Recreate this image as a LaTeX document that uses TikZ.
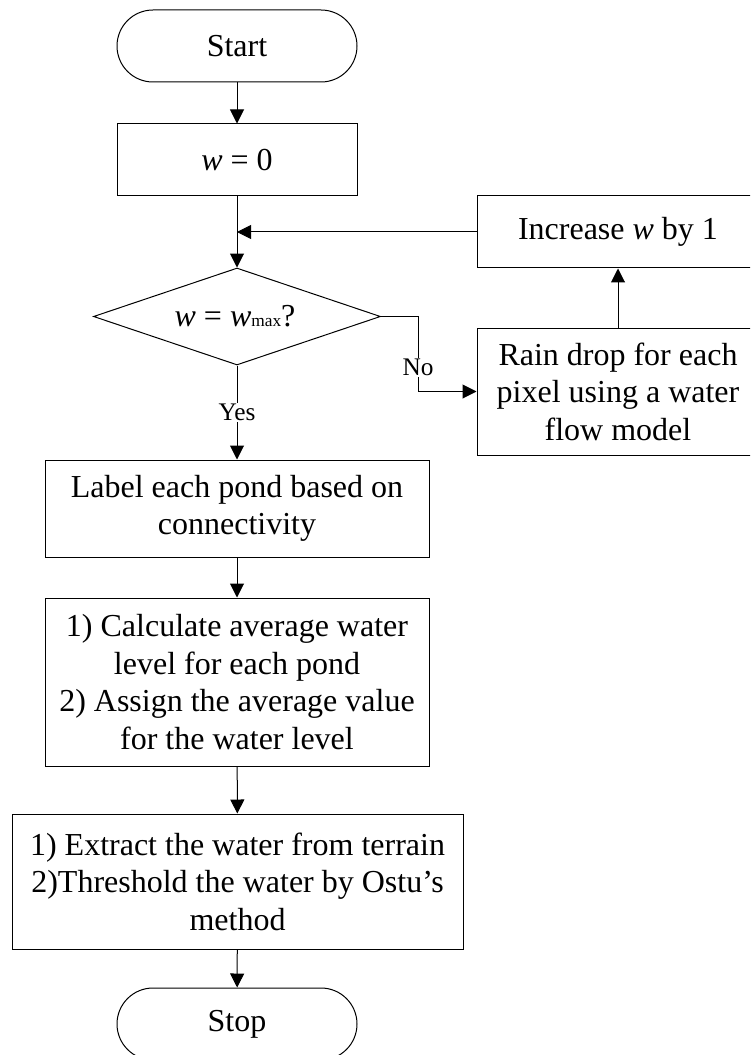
\documentclass[tikz,border=0pt]{standalone}
\usepackage{fontspec}
\setmainfont{Liberation Serif}
\usetikzlibrary{arrows.meta,shapes.geometric}

\begin{document}
\begin{tikzpicture}[x=0.75pt,y=-0.75pt,
  every node/.style={font=\fontsize{24}{28.1}\selectfont, align=center, inner sep=0pt},
  flowline/.style={line width=0.75pt},
  arrowline/.style={flowline, -{Triangle[length=10.5pt,width=10.5pt]}},
  procbox/.style={draw, line width=0.75pt, rectangle},
  terminal/.style={draw, line width=0.75pt, rectangle, rounded corners=27pt,
                   minimum width=180pt, minimum height=54pt},
  branchlabel/.style={fill=white, font=\fontsize{19}{22}\selectfont, inner sep=1pt}
]
\clip (0,0) rectangle (750,1055);
\fill[white] (0,0) rectangle (750,1055);

% main column
\node[terminal] (start) at (237,46) {Start};
\node[procbox, minimum width=180pt, minimum height=54pt] (init) at (237,160) {\textit{w} = 0};
\node[draw, line width=0.75pt, diamond, minimum width=215.25pt, minimum height=72.75pt] (test) at (237,316.5) {};
\node at (235,316) {\textit{w} = \textit{w}{\fontsize{13}{13}\selectfont max}?};
\node[procbox, minimum width=288pt, minimum height=72.75pt] (label) at (237,508.5)
  {Label each pond based on\\connectivity};
\node[procbox, minimum width=288pt, minimum height=126pt] (avg) at (237,682)
  {1) Calculate average water\\level for each pond\\2) Assign the average value\\for the water level};
\node[procbox, minimum width=338.25pt, minimum height=101.25pt] (extract) at (237.5,881.5)
  {1) Extract the water from terrain\\2)Threshold the water by Ostu's\\method};
\node[terminal] (stop) at (237,1024) {Stop};

% loop column
\node[procbox, minimum width=211.5pt, minimum height=54pt] (inc) at (618,232) {Increase \textit{w} by 1};
\node[procbox, minimum width=211.5pt, minimum height=95.25pt] (rain) at (618,391.5)
  {Rain drop for each\\pixel using a water\\flow model};
\coordinate (merge) at (237,232);

% connectors
\draw[arrowline] (start) -- (init);
\draw[arrowline] (init) -- (test);
\draw[arrowline] (inc) -- (merge);
\draw[arrowline] (test.south) -- node[branchlabel] {Yes} (label.north);
\draw[arrowline] (test.east) -- ++(37,0) |- node[branchlabel, pos=0.34] {No} (rain.west);
\draw[arrowline] (rain) -- (inc);
\draw[arrowline] (label) -- (avg);
\draw[arrowline] (avg) -- (extract);
\draw[arrowline] (extract) -- (stop);
\end{tikzpicture}
\end{document}
